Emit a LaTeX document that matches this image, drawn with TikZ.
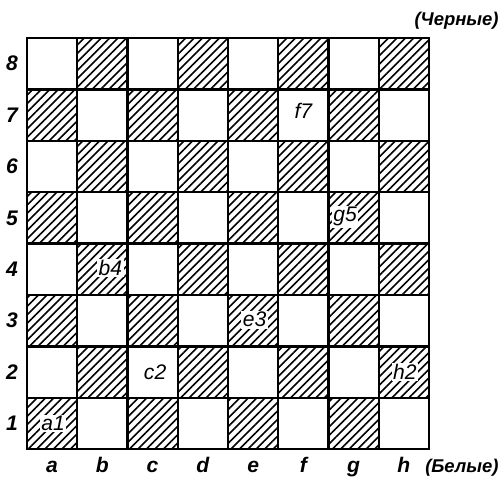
\documentclass[tikz,border=0pt]{standalone}
\usepackage{fontspec}
\setmainfont{Liberation Sans}
\usetikzlibrary{patterns.meta}

\tikzset{
  hatched/.style={pattern={Lines[angle=45,distance=3.4pt,line width=0.9pt]}},
  sqlabel/.style={fill=white, inner sep=0.8pt, font=\fontsize{12}{13}\selectfont\itshape},
  axlabel/.style={font=\fontsize{12}{13}\selectfont\bfseries\itshape},
  sidelabel/.style={font=\fontsize{10.5}{12}\selectfont\bfseries\itshape, inner sep=0.5pt}
}

\begin{document}
\begin{tikzpicture}[x=1.005cm, y=1.028cm, line cap=rect, line join=miter]
  \useasboundingbox (-0.537,-0.545) rectangle (9.413,8.739);

  % Dark squares
  \foreach \i in {0,...,7}
    \foreach \r in {1,...,8}{
      \pgfmathtruncatemacro{\odd}{mod(\i+\r,2)}
      \ifnum\odd=1
        \fill[hatched] (\i,\r-1) rectangle ++(1,1);
      \fi
    }

  % Grid
  \foreach \k in {1,...,7}{
    \draw[line width=1.3pt] (\k,0) -- (\k,8);
    \draw[line width=1.3pt] (0,\k) -- (8,\k);
  }
  \draw[line width=1.4pt] (0,0) rectangle (8,8);

  % Files and ranks
  \foreach \f [count=\n from 0] in {a,b,c,d,e,f,g,h}
    \node[axlabel, anchor=base] (file-\f) at (\n+0.5,-0.45) {\f};
  \foreach \r in {1,...,8}
    \node[axlabel] (rank-\r) at (-0.3,\r-0.5) {\r};

  % Sides
  \node[sidelabel, anchor=base east] (black) at (9.41,8.24) {(Черные)};
  \node[sidelabel, anchor=base east] (white) at (9.41,-0.45) {(Белые)};

  % Squares
  \node[sqlabel] (sq-a1) at (0.52,0.5) {a1};
  \node[sqlabel] (sq-b4) at (1.66,3.52) {b4};
  \node[sqlabel] (sq-c2) at (2.55,1.5) {c2};
  \node[sqlabel] (sq-e3) at (4.53,2.52) {e3};
  \node[sqlabel] (sq-f7) at (5.5,6.58) {f7};
  \node[sqlabel] (sq-g5) at (6.33,4.52) {g5};
  \node[sqlabel] (sq-h2) at (7.52,1.5) {h2};
\end{tikzpicture}
\end{document}
